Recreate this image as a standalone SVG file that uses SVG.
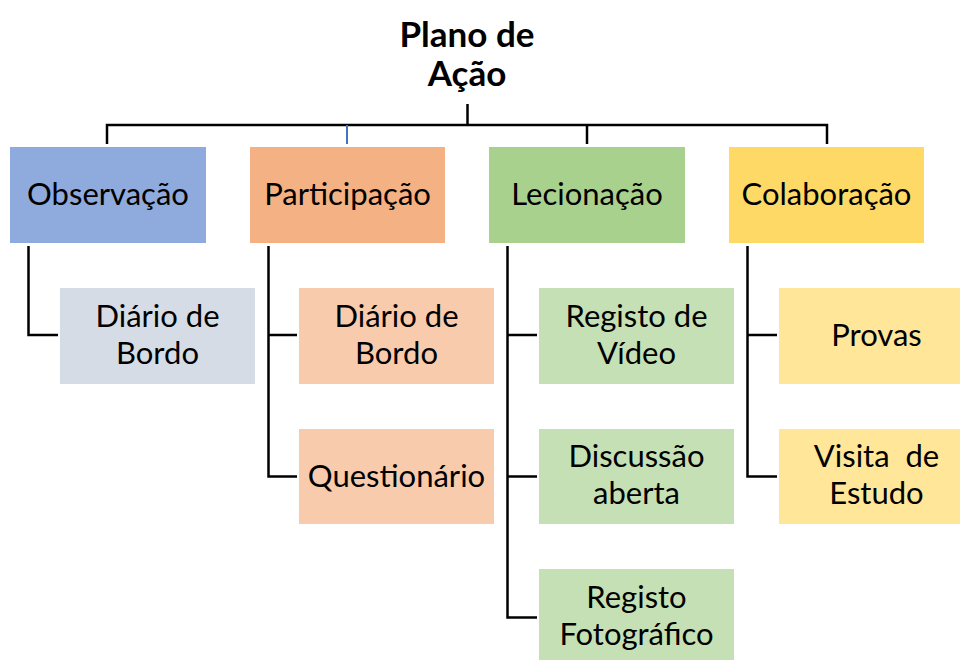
<svg xmlns="http://www.w3.org/2000/svg" width="960" height="660" viewBox="0 0 960 660">
<style>
text{font-family:Lato,"Open Sans","Liberation Sans",sans-serif;font-size:31px;fill:#000;text-anchor:middle;white-space:pre}
.t{font-weight:bold;font-size:35px}
.c{fill:none;stroke:#000;stroke-width:2.5}
</style>
<rect width="960" height="660" fill="#fff"/>
<g id="connectors">
<path class="c" d="M467.5 104V125M107 144V125H827V144M587 125V144"/>
<path d="M347 125V144" stroke="#4472C4" stroke-width="2" fill="none"/>
<path class="c" d="M28.5 246V335H58"/>
<path class="c" d="M268.5 246V476.5H297M268.5 335H297"/>
<path class="c" d="M507.5 246V617.5H537M507.5 335H537M507.5 476.5H537"/>
<path class="c" d="M747.5 246V476.5H777M747.5 335H777"/>
</g>
<g id="root"><text class="t" x="467" y="47">Plano de</text><text class="t" x="467" y="86">Ação</text></g>
<g id="observacao"><rect x="10" y="147" width="196" height="96" fill="#8FAADC"/><text x="108" y="205">Observação</text></g>
<g id="participacao"><rect x="250" y="147" width="195" height="96" fill="#F4B183"/><text x="347.5" y="205">Participação</text></g>
<g id="lecionacao"><rect x="489" y="147" width="196" height="96" fill="#A9D18E"/><text x="587" y="205">Lecionação</text></g>
<g id="colaboracao"><rect x="729" y="147" width="195" height="96" fill="#FFD966"/><text x="826.5" y="205">Colaboração</text></g>
<g id="obs-diario"><rect x="60" y="288" width="195" height="96" fill="#D6DCE5"/><text x="157.5" y="327">Diário de</text><text x="157.5" y="364">Bordo</text></g>
<g id="part-diario"><rect x="299" y="288" width="195" height="96" fill="#F8CBAD"/><text x="396.5" y="327">Diário de</text><text x="396.5" y="364">Bordo</text></g>
<g id="part-quest"><rect x="299" y="429" width="195" height="95" fill="#F8CBAD"/><text x="396.5" y="487">Questionário</text></g>
<g id="lec-video"><rect x="539" y="288" width="195" height="96" fill="#C5E0B4"/><text x="636.5" y="327">Registo de</text><text x="636.5" y="364">Vídeo</text></g>
<g id="lec-discussao"><rect x="539" y="429" width="195" height="95" fill="#C5E0B4"/><text x="636.5" y="467">Discussão</text><text x="636.5" y="504">aberta</text></g>
<g id="lec-foto"><rect x="539" y="569" width="195" height="91" fill="#C5E0B4"/><text x="636.5" y="608">Registo</text><text x="636.5" y="645">Fotográfico</text></g>
<g id="col-provas"><rect x="779" y="288" width="181" height="96" fill="#FFE699"/><text x="876.5" y="346">Provas</text></g>
<g id="col-visita"><rect x="779" y="429" width="181" height="95" fill="#FFE699"/><text x="876.5" y="467">Visita  de</text><text x="876.5" y="504">Estudo</text></g>
</svg>
